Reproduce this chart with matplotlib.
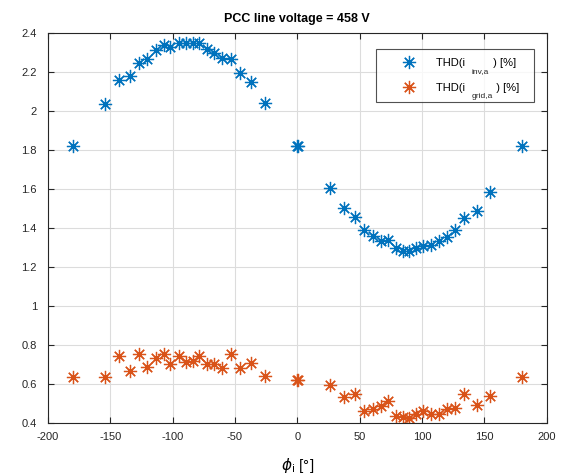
"""
THD delle correnti inverter/rete in funzione dell'angolo phi_i,
con tensione di linea al PCC = 458 V (stile MATLAB).
"""
import matplotlib
matplotlib.use("Agg")
import matplotlib.pyplot as plt

# ---------------------------------------------------------------- dati
phi_i = [-180, -154, -143, -134, -127, -120.4, -113.4, -107, -102, -95.2,
         -89.3, -84, -78.7, -72.7, -67.1, -60.2, -53.2, -45.7, -37.4, -25.9,
         0, 0.6, 26.2, 37.5, 46, 53.3, 60.8, 66.9, 72.5, 79.2, 84.6, 89.9,
         95.3, 101.1, 107.3, 113.7, 120.4, 126.8, 134, 144, 154.3, 180.5]

thd_inv = [1.824, 2.036, 2.159, 2.183, 2.249, 2.267, 2.313, 2.340, 2.331, 2.349,
           2.349, 2.349, 2.349, 2.320, 2.297, 2.272, 2.267, 2.196, 2.149, 2.043,
           1.824, 1.824, 1.607, 1.506, 1.459, 1.390, 1.359, 1.335, 1.338, 1.297,
           1.285, 1.285, 1.299, 1.309, 1.313, 1.333, 1.357, 1.390, 1.454, 1.490,
           1.584, 1.824]

thd_grid = [0.638, 0.638, 0.746, 0.669, 0.754, 0.691, 0.733, 0.754, 0.703, 0.747,
            0.715, 0.720, 0.747, 0.703, 0.705, 0.684, 0.757, 0.686, 0.710, 0.643,
            0.620, 0.620, 0.598, 0.533, 0.552, 0.464, 0.474, 0.487, 0.513, 0.438,
            0.433, 0.429, 0.450, 0.465, 0.450, 0.450, 0.474, 0.479, 0.552, 0.492,
            0.540, 0.638]

x_ticks = [-200, -150, -100, -50, 0, 50, 100, 150, 200]
y_ticks = [0.4, 0.6, 0.8, 1, 1.2, 1.4, 1.6, 1.8, 2, 2.2, 2.4]

# legenda stile MATLAB: il pedice e' disegnato a parte, piu' in basso
legenda = ["THD(i" + " " * 9 + ") [%]   ", "THD(i" + " " * 10 + ") [%]  "]
pedici = ["inv,a", "grid,a"]

BLU = "#0072BD"
ARANCIO = "#D95319"
ASTERISCO = (8, 2, 0)

plt.rcParams["font.family"] = ["Liberation Sans", "DejaVu Sans"]
plt.rcParams["mathtext.fontset"] = "dejavusans"
plt.rcParams["axes.unicode_minus"] = False


def main():
    fig = plt.figure(figsize=(5.64, 4.75), dpi=100)
    ax = fig.add_axes([0.0851, 0.1088, 0.884, 0.821])

    ax.plot(phi_i, thd_inv, linestyle="none", marker=ASTERISCO, markersize=9.5,
            markeredgewidth=0.9, color=BLU, label=legenda[0])
    ax.plot(phi_i, thd_grid, linestyle="none", marker=ASTERISCO, markersize=9.5,
            markeredgewidth=0.9, color=ARANCIO, label=legenda[1])

    ax.set_xlim(-200, 200)
    ax.set_ylim(0.4, 2.4)
    ax.set_xticks(x_ticks)
    ax.set_yticks(y_ticks)
    ax.set_yticklabels([f"{v:g}" for v in y_ticks])
    ax.tick_params(direction="in", top=True, right=True, labelsize=8,
                   length=4, width=0.8, colors="#262626")
    ax.tick_params(axis="x", pad=6)
    ax.tick_params(axis="y", pad=8)
    for s in ax.spines.values():
        s.set_color("#262626")
        s.set_linewidth(0.8)
    ax.grid(True, color="#dcdcdc", linewidth=0.8)
    ax.set_axisbelow(True)

    ax.set_title("PCC line voltage = 458 V", fontsize=9, fontweight="bold", pad=8)
    ax.set_xlabel(r"$\phi_\mathrm{i}$ [°]", fontsize=11, labelpad=10)

    leg = ax.legend(loc="upper right", bbox_to_anchor=(0.9747, 0.959), fontsize=8,
                    frameon=True, fancybox=False, edgecolor="#262626",
                    handlelength=4.3, handletextpad=0.28, borderpad=0.8,
                    labelspacing=1.3, borderaxespad=0.0)
    leg.get_frame().set_linewidth(0.8)
    for testo, pedice in zip(leg.get_texts(), pedici):
        ax.annotate(pedice, xy=(0, 0), xycoords=testo, xytext=(36, -5),
                    textcoords="offset pixels", fontsize=6, va="baseline",
                    color="#262626", zorder=10)

    fig.savefig("out.png", dpi=100)


if __name__ == "__main__":
    main()
